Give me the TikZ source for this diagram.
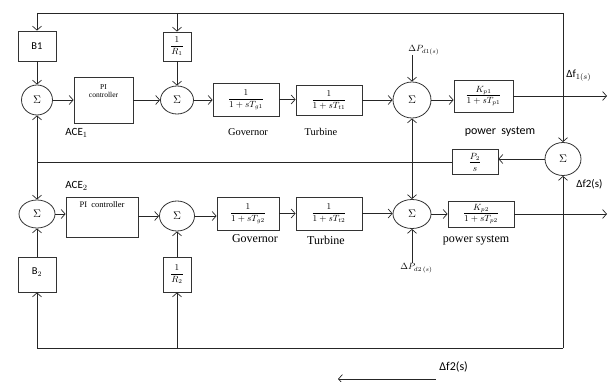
\documentclass[tikz,border=0pt]{standalone}
\usepackage{fontspec}
\setmainfont{Liberation Serif}
\newfontfamily\calib{Carlito}
\usetikzlibrary{arrows.meta,shapes.geometric}
\newcommand{\myfrac}[2]{$\displaystyle\frac{#1}{#2}$}
\begin{document}
\begin{tikzpicture}[x=1pt,y=-1pt,line width=0.7pt,draw=black!85,
  blk/.style={draw=black!80,rectangle,inner sep=0pt,line width=0.8pt,fill=white},
  fbox/.style={blk,font=\fontsize{9.2}{9.5}\selectfont},
  rbox/.style={blk,font=\fontsize{9}{9}\selectfont,minimum width=28,minimum height=29},
  sumn/.style={draw=black!80,ellipse,inner sep=0pt,line width=0.8pt,font=\fontsize{10.5}{10.5}\selectfont},
  arr/.style={-{Straight Barb[length=4pt,width=9pt,line width=0.7pt]}},
  cal/.style={font=\calib\fontsize{11}{12}\selectfont,inner sep=0pt},
  ser/.style={font=\fontsize{10.4}{12}\selectfont,inner sep=0pt},
  serb/.style={font=\fontsize{12}{14}\selectfont,inner sep=0pt}]
\useasboundingbox (0,0) rectangle (610,382);

% ---- top area ----
\node[blk,minimum width=38,minimum height=30,font=\calib\fontsize{10.5}{12}\selectfont] (B1) at (37,46) {B1};
\node[rbox] (R1) at (177,46.5) {\myfrac{1}{R_1}};
\node[sumn,minimum width=31,minimum height=30] (S1) at (37,100) {$\Sigma$};
\node[blk,minimum width=59,minimum height=46] (PI1) at (103.5,100) {};
\node[font=\fontsize{7.5}{8.5}\selectfont,align=center,anchor=north,inner sep=0pt] (PI1t) at (103.5,84) {PI\\controller};
\node[sumn,minimum width=33,minimum height=28] (S2) at (177,100) {$\Sigma$};
\node[fbox,minimum width=66,minimum height=33] (G1) at (246,99.5) {\myfrac{1}{1+sT_{g1}}};
\node[fbox,minimum width=66,minimum height=30] (T1) at (329,100) {\myfrac{1}{1+sT_{t1}}};
\node[sumn,minimum width=38,minimum height=36] (S3) at (412,100) {$\Sigma$};
\node[fbox,minimum width=59,minimum height=32] (K1) at (483.5,96) {\myfrac{K_{p1}}{1+sT_{p1}}};
\node[sumn,minimum width=36,minimum height=33] (S7) at (563,159) {$\Sigma$};
\node[fbox,minimum width=46,minimum height=25] (P2) at (475,162) {\myfrac{P_2}{s}};

% ---- bottom area ----
\node[sumn,minimum width=36,minimum height=28] (S4) at (37,214) {$\Sigma$};
\node[blk,minimum width=72,minimum height=40] (PI2) at (102,217) {};
\node[font=\fontsize{8.5}{9}\selectfont,anchor=north,inner sep=0pt] (PI2t) at (102,201) {PI\ \ controller};
\node[sumn,minimum width=35,minimum height=30] (S5) at (177,216) {$\Sigma$};
\node[fbox,minimum width=62,minimum height=33] (G2) at (248,213.5) {\myfrac{1}{1+sT_{g2}}};
\node[fbox,minimum width=66,minimum height=33] (T2) at (329,213.5) {\myfrac{1}{1+sT_{t2}}};
\node[sumn,minimum width=38,minimum height=29] (S6) at (412,214) {$\Sigma$};
\node[fbox,minimum width=66,minimum height=26] (K2) at (481,214) {\myfrac{K_{p2}}{1+sT_{p2}}};
\node[blk,minimum width=38,minimum height=35,font=\calib\fontsize{10.5}{12}\selectfont,text depth=0pt] (B2) at (37,274.5) {\raisebox{6pt}{B$_2$}};
\node[rbox,minimum height=35] (R2) at (177,274.5) {\myfrac{1}{R_2}};

% ---- labels ----
\node[cal,anchor=west] (ace1) at (65,133) {ACE$_1$};
\node[cal,anchor=west] (ace2) at (65,186) {ACE$_2$};
\node[ser] (gov1) at (248,132) {Governor};
\node[ser] (tur1) at (321,132) {Turbine};
\node[cal,font=\calib\fontsize{12}{13}\selectfont] (ps1) at (500,132) {power\ \ system};
\node[serb] (gov2) at (255,239) {Governor};
\node[serb] (tur2) at (326,240) {Turbine};
\node[serb] (ps2) at (476,240) {power system};
\node[anchor=west,inner sep=0pt,font=\fontsize{8.6}{9}\selectfont] (d1) at (408,50) {$\Delta P_{d1(s)}$};
\node[anchor=west,inner sep=0pt,font=\fontsize{9}{9}\selectfont] (d2) at (400,268) {$\Delta P_{d2\,(s)}$};
\node[cal,anchor=west] (f1) at (566,76) {Δf$_{1(s)}$};
\node[cal,anchor=west] (f2) at (576,184) {Δf2(s)};
\node[cal,anchor=west,font=\calib\fontsize{12}{13}\selectfont] (f2b) at (439,367) {Δf2(s)};

% ---- coordinates ----
\coordinate (TL) at (37,13);
\coordinate (TM) at (177,13);
\coordinate (TR) at (563,13);
\coordinate (BL) at (37,348);
\coordinate (BM) at (177,348);
\coordinate (BR) at (563,348);
\coordinate (L) at (37,162);
\coordinate (J) at (412,162);
\coordinate (o1) at (607,96);
\coordinate (o2) at (607,214);
\coordinate (a1) at (436,379);
\coordinate (a2) at (338,379);

% ---- top row connectors ----
\draw[arr] (S1) -- (S1 -| PI1.west);
\draw[arr] (PI1) -- (PI1 -| S2.west);
\draw[arr] (S2) -- (S2 -| G1.west);
\draw[arr] (G1) -- (G1 -| T1.west);
\draw[arr] (T1) -- (T1 -| S3.west);
\draw[arr] (S3) -- (S3 -| K1.west);
\draw[arr] (K1) -- (o1);
\draw[arr] (B1) -- (S1);
\draw[arr] (R1) -- (S2);
\draw[arr] (S3 |- d1.south) -- (S3);

% ---- bottom row connectors ----
\draw[arr] (S4) -- (S4 -| PI2.west);
\draw[arr] (S5 -| PI2.east) -- (S5);
\draw[arr] (S5) -- (S5 -| G2.west);
\draw[arr] (G2) -- (G2 -| T2.west);
\draw[arr] (T2) -- (T2 -| S6.west);
\draw[arr] (S6) -- (S6 -| K2.west);
\draw[arr] (K2) -- (o2);
\draw[arr] (B2) -- (S4);
\draw[arr] (R2) -- (S5);
\draw[arr] (S6 |- d2.north) -- (S6);

% ---- feedback loops ----
\draw (TR) -- (TL);
\draw[arr] (TL) -- (B1);
\draw[arr] (TM) -- (R1);
\draw[arr] (TR) -- (S7);
\draw (BR) -- (BL);
\draw[arr] (BL) -- (B2);
\draw[arr] (BM) -- (R2);
\draw[arr] (BR) -- (S7);
\draw[arr] (S7) -- (S7 -| P2.east);
\draw[line width=0.9pt] (P2.west) -- (L);
\draw[arr] (L) -- (S1);
\draw[arr] (L) -- (S4);
\draw[arr] (J) -- (S3);
\draw[arr] (J) -- (S6);
\draw[arr] (a1) -- (a2);
\end{tikzpicture}
\end{document}
